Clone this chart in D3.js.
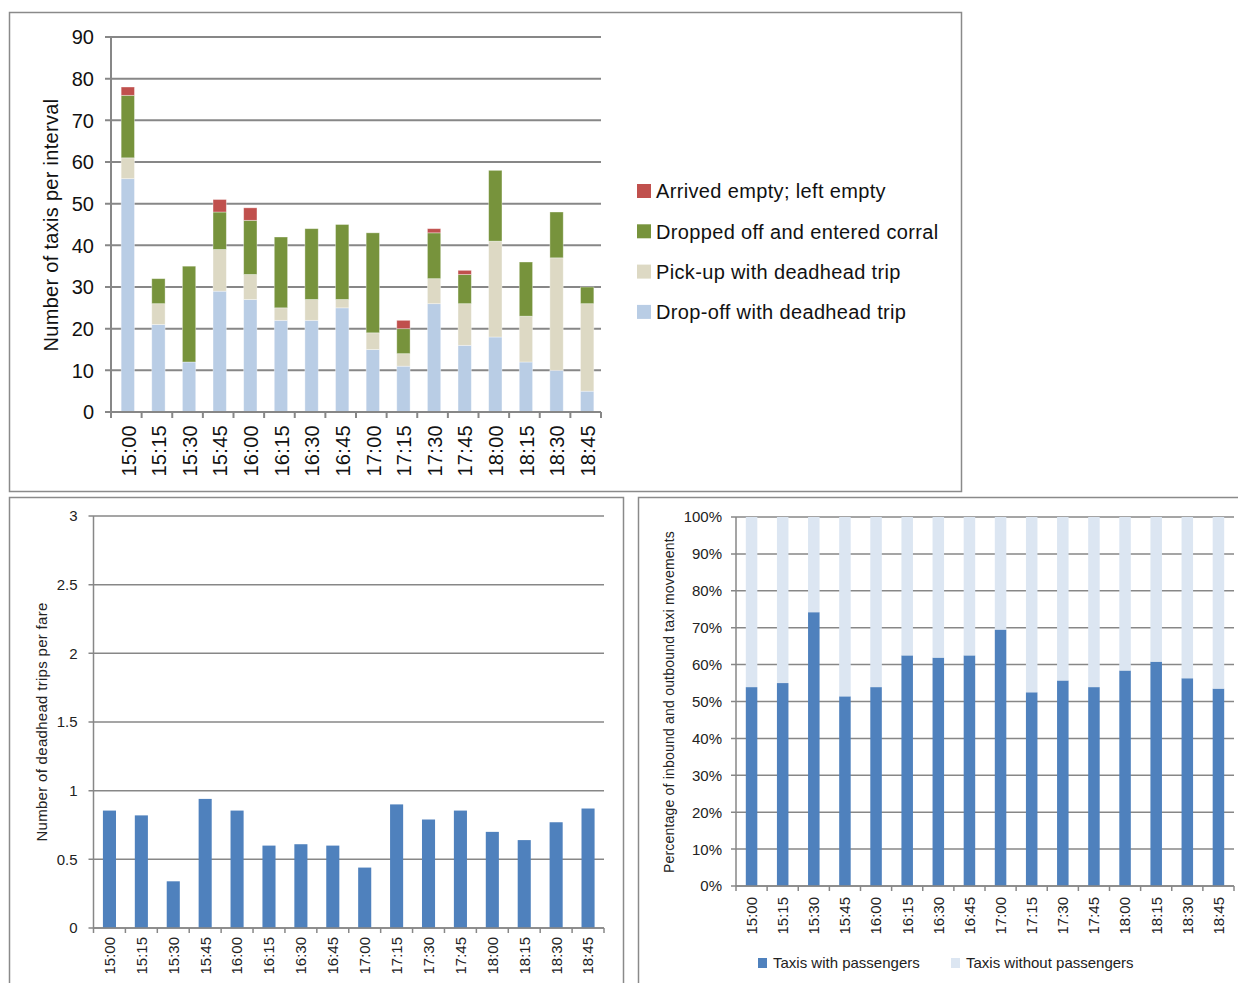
<!DOCTYPE html>
<html>
<head>
<meta charset="utf-8">
<script src="https://cdn.jsdelivr.net/npm/d3@7/dist/d3.min.js"></script>
<style>
  html, body { margin: 0; padding: 0; background: #fff; }
  svg { display: block; font-family: "Liberation Sans", Arial, sans-serif; }
</style>
</head>
<body>
<svg id="chart" width="1238" height="983"></svg>
<script>
// Fifteen-minute intervals
const times = ["15:00","15:15","15:30","15:45","16:00","16:15","16:30","16:45",
               "17:00","17:15","17:30","17:45","18:00","18:15","18:30","18:45"];

// Taxis per interval, by movement type
const dropoffDeadhead      = [56,21,12,29,27,22,22,25,15,11,26,16,18,12,10,5];
const pickupDeadhead       = [5,5,0,10,6,3,5,2,4,3,6,10,23,11,27,21];
const droppedEnteredCorral = [15,6,23,9,13,17,17,18,24,6,11,7,17,13,11,4];
const arrivedEmptyLeftEmpty= [2,0,0,3,3,0,0,0,0,2,1,1,0,0,0,0];

const movementSeries = ["Drop-off with deadhead trip","Pick-up with deadhead trip",
                        "Dropped off and entered corral","Arrived empty; left empty"];
const movementColors = ["#B9CDE5","#DDD9C4","#77933C","#C0504D"];

// Deadhead trips per fare
const deadheadPerFare = [0.855,0.82,0.34,0.94,0.855,0.60,0.61,0.60,0.44,0.90,0.79,0.855,0.70,0.64,0.77,0.87];

// Share of inbound/outbound movements carrying passengers
const withPassengersShare = [0.539,0.550,0.742,0.514,0.539,0.625,0.619,0.625,0.695,0.525,0.557,0.539,0.584,0.608,0.563,0.535];
const passengerSeries = ["Taxis with passengers","Taxis without passengers"];
const passengerColors = ["#4F81BD","#DCE6F2"];

const yTicksTop = [0,10,20,30,40,50,60,70,80,90];
const yTicksFare = [0,0.5,1,1.5,2,2.5,3];
const yTicksPct = [0,0.1,0.2,0.3,0.4,0.5,0.6,0.7,0.8,0.9,1];

const svg = d3.select("#chart");
const gridColor = "#878787";

// Panel frames
svg.append("rect").attr("x",9.5).attr("y",12.5).attr("width",952).attr("height",479)
  .attr("fill","none").attr("stroke","#8a8a8a").attr("stroke-width",1.5);
svg.append("rect").attr("x",9.5).attr("y",497.5).attr("width",614).attr("height",500)
  .attr("fill","none").attr("stroke","#8a8a8a").attr("stroke-width",1.5);
svg.append("rect").attr("x",638.5).attr("y",497.5).attr("width",620).attr("height",500)
  .attr("fill","none").attr("stroke","#8a8a8a").attr("stroke-width",1.5);

// Gridded value axis: gridlines that double as outward ticks, plus labels
function drawValueGrid(g, y, ticks, x0, x1, opts) {
  g.selectAll(".grid").data(ticks).join("line")
    .attr("x1", x0 - opts.tick).attr("x2", x1)
    .attr("y1", d => y(d)).attr("y2", d => y(d))
    .attr("stroke", gridColor).attr("stroke-width", opts.sw);
  g.append("line").attr("x1", x0).attr("x2", x0)
    .attr("y1", y(ticks[ticks.length-1])).attr("y2", y(ticks[0]))
    .attr("stroke", gridColor).attr("stroke-width", opts.sw);
  g.selectAll(".ylab").data(ticks).join("text")
    .attr("x", x0 - opts.pad).attr("y", d => y(d))
    .attr("dy","0.36em").attr("text-anchor","end")
    .attr("font-size", opts.fs).attr("fill", opts.color)
    .text(opts.fmt);
}
// Category axis: ticks on band boundaries, rotated time labels
function drawCategoryAxis(g, x, yBase, opts) {
  const r = x.range(), step = x.step();
  const bounds = d3.range(x.domain().length + 1).map(i => r[0] + i*step);
  g.selectAll(".xt").data(bounds).join("line")
    .attr("x1", d => d).attr("x2", d => d)
    .attr("y1", yBase).attr("y2", yBase + opts.tick)
    .attr("stroke", gridColor).attr("stroke-width", opts.sw);
  g.selectAll(".xlab").data(x.domain()).join("text")
    .attr("transform", d => `translate(${x(d) + x.bandwidth()/2 + opts.dx},${yBase + opts.pad}) rotate(-90)`)
    .attr("dy","0.36em").attr("text-anchor","end")
    .attr("font-size", opts.fs).attr("fill", opts.color)
    .attr("letter-spacing", opts.ls || 0)
    .text(d => d);
}

// ---------- Top: stacked taxis per interval ----------
{
  const g = svg.append("g");
  const x = d3.scaleBand().domain(times).range([111, 601]).paddingInner(0.565).paddingOuter(0.2825);
  const y = d3.scaleLinear().domain([0, 90]).range([412, 37]);
  drawValueGrid(g, y, yTicksTop, 111, 601, {tick:6, sw:2, pad:17, fs:20, color:"#111", fmt:d=>d});

  const rows = times.map((t,i) => ({t, [movementSeries[0]]:dropoffDeadhead[i], [movementSeries[1]]:pickupDeadhead[i],
                                    [movementSeries[2]]:droppedEnteredCorral[i], [movementSeries[3]]:arrivedEmptyLeftEmpty[i]}));
  const stacked = d3.stack().keys(movementSeries)(rows);
  g.selectAll(".layer").data(stacked).join("g")
    .attr("fill", (d,i) => movementColors[i])
    .selectAll("rect").data(d => d).join("rect")
      .attr("x", d => x(d.data.t) + 1.5).attr("width", x.bandwidth())
      .attr("y", d => y(d[1])).attr("height", d => y(d[0]) - y(d[1]))
      .attr("stroke", "rgba(255,255,255,0.45)").attr("stroke-width", 0.8);

  g.append("line").attr("x1",111).attr("x2",601).attr("y1",412).attr("y2",412)
    .attr("stroke",gridColor).attr("stroke-width",2);
  drawCategoryAxis(g, x, 412, {tick:6, sw:2, pad:13, fs:20, color:"#111", dx:2, ls:0.3});

  g.append("text").attr("transform","translate(51,225) rotate(-90)")
    .attr("dy","0.36em").attr("text-anchor","middle").attr("font-size",20).attr("fill","#111")
    .attr("letter-spacing",0.3)
    .text("Number of taxis per interval");

  const legendOrder = [3,2,1,0];
  const lg = g.append("g");
  legendOrder.forEach((si, k) => {
    const cy = 191 + k*40.3;
    lg.append("rect").attr("x",637).attr("y",cy-7).attr("width",14).attr("height",14).attr("fill",movementColors[si]);
    lg.append("text").attr("x",656).attr("y",cy).attr("dy","0.36em")
      .attr("font-size",20).attr("fill","#111").attr("letter-spacing",0.35).text(movementSeries[si]);
  });
}

// ---------- Bottom left: deadhead trips per fare ----------
{
  const g = svg.append("g");
  const x = d3.scaleBand().domain(times).range([93.5, 604]).paddingInner(0.59).paddingOuter(0.295);
  const y = d3.scaleLinear().domain([0, 3]).range([928, 516]);
  drawValueGrid(g, y, yTicksFare, 93.5, 604, {tick:5, sw:1.5, pad:16, fs:15, color:"#222", fmt:d=>d});

  g.selectAll(".bar").data(deadheadPerFare).join("rect")
    .attr("x", (d,i) => x(times[i])).attr("width", x.bandwidth())
    .attr("y", d => y(d)).attr("height", d => y(0) - y(d))
    .attr("fill", "#4F81BD");

  g.append("line").attr("x1",93.5).attr("x2",604).attr("y1",928).attr("y2",928)
    .attr("stroke",gridColor).attr("stroke-width",1.5);
  drawCategoryAxis(g, x, 928, {tick:5, sw:1.5, pad:9, fs:15, color:"#222", dx:0});

  g.append("text").attr("transform","translate(42,722) rotate(-90)")
    .attr("dy","0.36em").attr("text-anchor","middle").attr("font-size",15).attr("fill","#222")
    .attr("letter-spacing",0.3)
    .text("Number of deadhead trips per fare");
}

// ---------- Bottom right: share with / without passengers ----------
{
  const g = svg.append("g");
  const x = d3.scaleBand().domain(times).range([736, 1234]).paddingInner(0.63).paddingOuter(0.315);
  const y = d3.scaleLinear().domain([0, 1]).range([886, 517]);
  drawValueGrid(g, y, yTicksPct, 736, 1234, {tick:5, sw:1.5, pad:14, fs:15, color:"#222", fmt:d3.format(".0%")});

  const rows = times.map((t,i) => ({t, [passengerSeries[0]]: withPassengersShare[i], [passengerSeries[1]]: 1 - withPassengersShare[i]}));
  const stacked = d3.stack().keys(passengerSeries)(rows);
  g.selectAll(".layer").data(stacked).join("g")
    .attr("fill", (d,i) => passengerColors[i])
    .selectAll("rect").data(d => d).join("rect")
      .attr("x", d => x(d.data.t)).attr("width", x.bandwidth())
      .attr("y", d => y(d[1])).attr("height", d => y(d[0]) - y(d[1]));

  g.append("line").attr("x1",736).attr("x2",1234).attr("y1",886).attr("y2",886)
    .attr("stroke",gridColor).attr("stroke-width",1.5);
  drawCategoryAxis(g, x, 886, {tick:5, sw:1.5, pad:11, fs:15, color:"#222", dx:0});

  g.append("text").attr("transform","translate(669,702) rotate(-90)")
    .attr("dy","0.36em").attr("text-anchor","middle").attr("font-size",14).attr("fill","#222")
    .attr("letter-spacing",0.2)
    .text("Percentage of inbound and outbound taxi movements");

  const legendX = [758, 951];
  passengerSeries.forEach((s, k) => {
    g.append("rect").attr("x",legendX[k]).attr("y",958).attr("width",9).attr("height",10).attr("fill",passengerColors[k]);
    g.append("text").attr("x",legendX[k]+15).attr("y",963).attr("dy","0.36em")
      .attr("font-size",15).attr("fill","#222").text(s);
  });
}
</script>
</body>
</html>
